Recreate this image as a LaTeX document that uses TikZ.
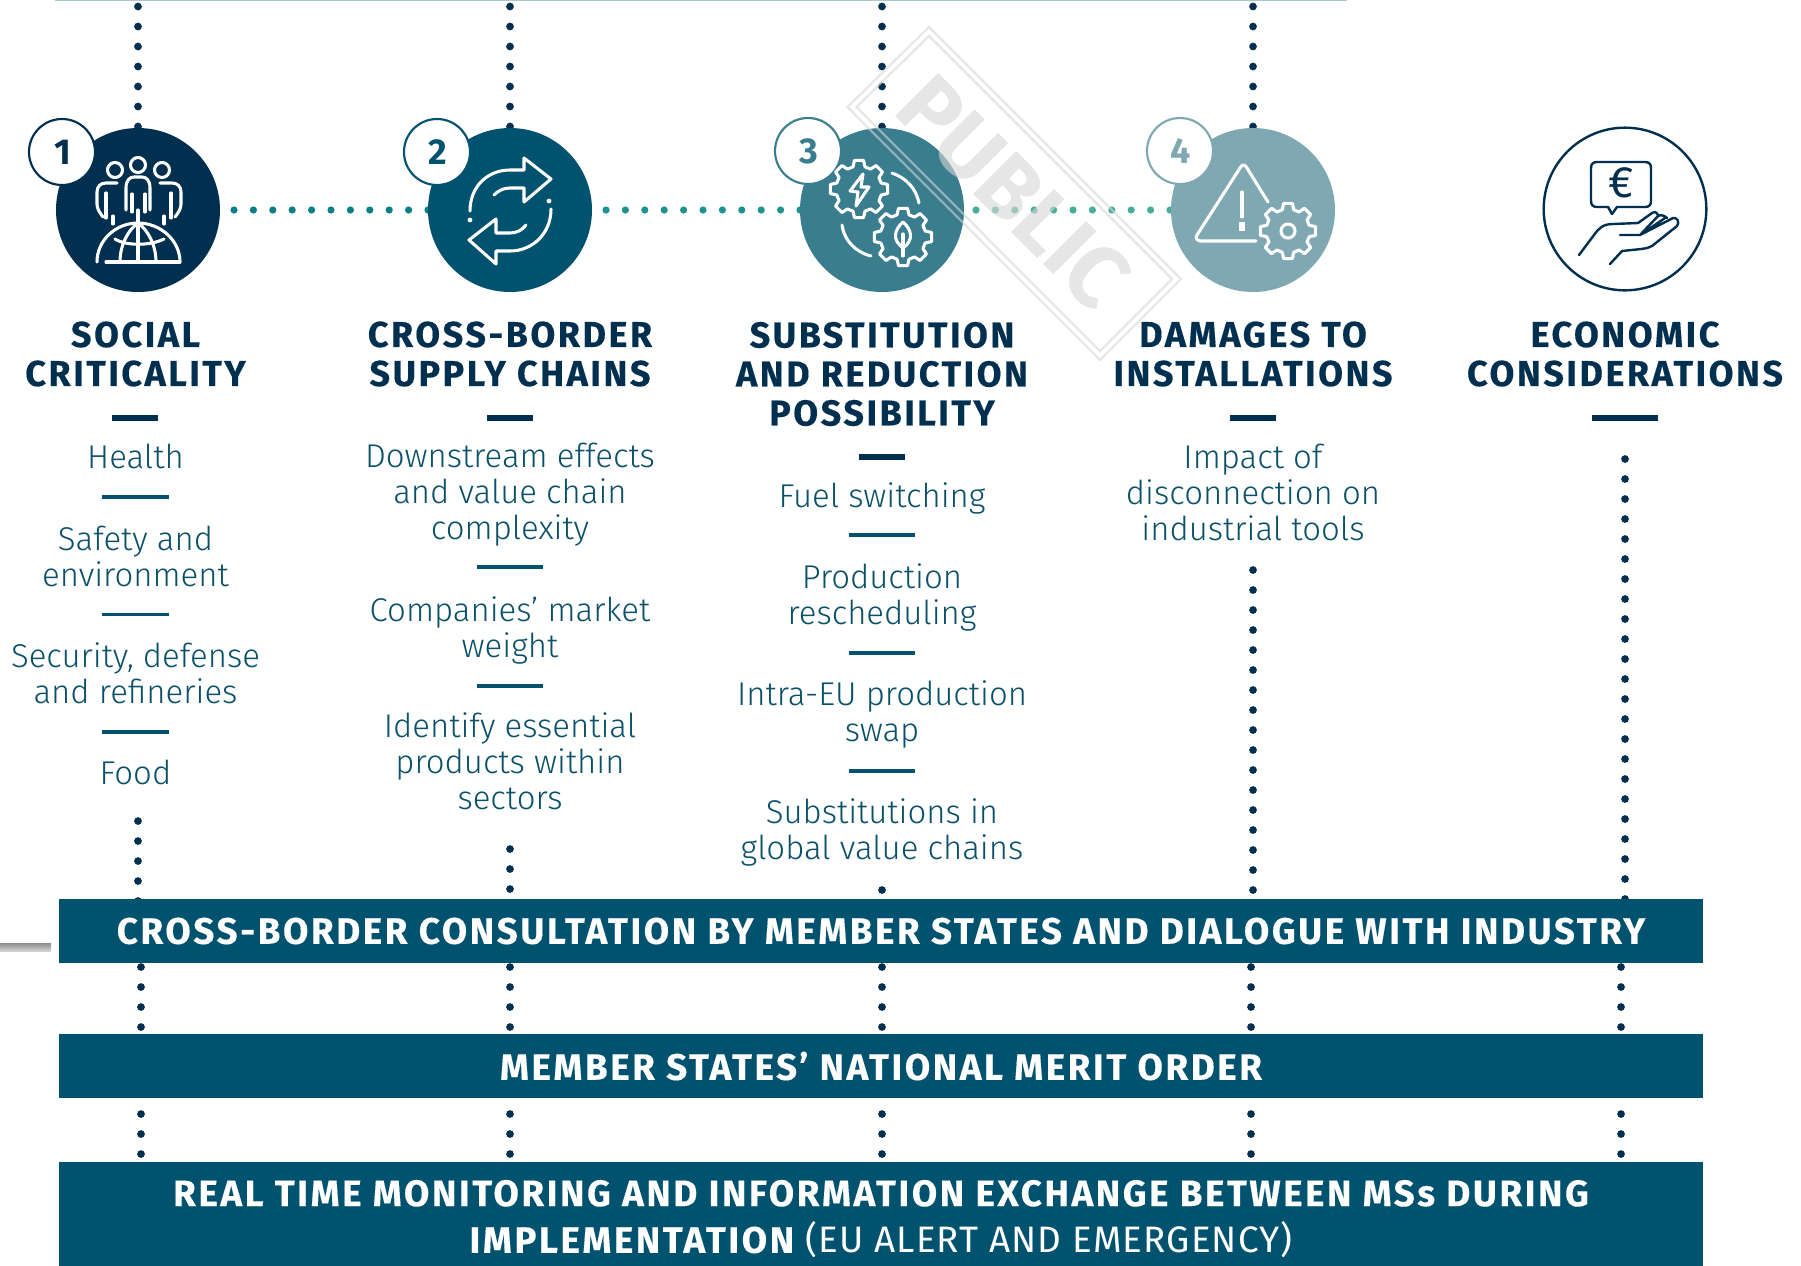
\documentclass[tikz,border=0pt]{standalone}
\usepackage{fontspec}
\setmainfont{Fira Sans}
\newfontfamily\bannerf[LetterSpace=7.0,BoldFeatures={FakeBold=0.25}]{Fira Sans}
\newfontfamily\bannerreg[LetterSpace=3.0]{Fira Sans}
\newfontfamily\bodyf{Fira Sans Light}
\usetikzlibrary{backgrounds}
\definecolor{navy}{HTML}{002F4F}
\definecolor{petrol}{HTML}{00526F}
\definecolor{midteal}{HTML}{3A7D8F}
\definecolor{paleteal}{HTML}{7FA8B3}
\definecolor{dotteal}{HTML}{0B7F86}
\definecolor{dotgreen}{HTML}{45AE9A}
\definecolor{dotmid}{HTML}{1D938F}
\definecolor{bodyc}{HTML}{0A5068}
\definecolor{topline}{HTML}{A6C8D0}
\definecolor{wm}{HTML}{D6D6D6}
\tikzset{
  disc/.style={circle,fill=#1,draw=none,minimum size=123pt,inner sep=0pt},
  badge/.style={circle,fill=white,draw=#1,line width=1.6pt,text=#1,minimum size=49.5pt,inner sep=0pt,font=\bfseries\fontsize{27}{27}\selectfont},
  title/.style={text=navy,align=center,inner sep=0pt,font=\bannerf\bfseries\fontsize{27}{29.25}\selectfont},
  body/.style={text=bodyc,align=center,inner sep=0pt,font=\bodyf\fontsize{24.7}{27}\selectfont},
  bar/.style={fill=navy,draw=none,minimum width=#1,minimum height=5.2pt,inner sep=0pt},
  thin/.style={fill=petrol,draw=none,minimum width=50pt,minimum height=2.8pt,inner sep=0pt},
  banner/.style={fill=petrol,draw=none,text=white,minimum width=1233pt,align=center,inner sep=0pt,font=\bannerf\bfseries\fontsize{27.6}{35}\selectfont},
  vdots/.style={draw=navy,line width=5.8pt,line cap=round,dash pattern=on 0pt off 15pt},
  hdots/.style={draw=#1,line width=5.4pt,line cap=round,dash pattern=on 0pt off 14.55pt},
  ico/.style={draw=white,line width=2.3pt,line cap=round,line join=round},
}
\newcommand{\gearshape}[5]{% x y R r style
  \draw[#5] ({#1+#3*cos(-9)},{#2+#3*sin(-9)})
    \foreach \a in {0,45,...,315}{
      -- ({#1+#3*cos(\a+9)},{#2+#3*sin(\a+9)})
      -- ({#1+#4*cos(\a+15)},{#2+#4*sin(\a+15)})
      -- ({#1+#4*cos(\a+30)},{#2+#4*sin(\a+30)})
      -- ({#1+#3*cos(\a+36)},{#2+#3*sin(\a+36)})
    } -- cycle;
}
\begin{document}
\begin{tikzpicture}[x=0.75pt,y=-0.75pt]
\useasboundingbox (0,0) rectangle (1801,1265);

% ---- discs and badges
\node[disc=navy]    (c1) at (138,210) {};
\node[disc=petrol]  (c2) at (510,210) {};
\node[disc=midteal] (c3) at (882,210) {};
\node[disc=paleteal](c4) at (1253,210) {};
\node[circle,fill=white,draw=navy,line width=1.8pt,minimum size=122pt,inner sep=0pt] (c5) at (1625,209) {};
\node[badge=navy]     (b1) at (62,152) {\kern1pt 1};
\node[badge=petrol]   (b2) at (437,152) {\kern1pt 2};
\node[badge=midteal]  (b3) at (808,151) {\kern1pt 3};
\node[badge=paleteal] (b4) at (1180,151) {\kern1pt 4};

% ---- titles
\node[title] (t1) at (135.5,354) {SOCIAL\\CRITICALITY};
\node[title] (t2) at (510,354) {CROSS-BORDER\\SUPPLY CHAINS};
\node[title] (t3) at (882,374) {SUBSTITUTION\\AND REDUCTION\\POSSIBILITY};
\node[title] (t4) at (1253,354) {DAMAGES TO\\INSTALLATIONS};
\node[title] (t5) at (1625,354) {ECONOMIC\\CONSIDERATIONS};
\node[bar=35pt] (r1) at (135,418) {};
\node[bar=35pt] (r2) at (510,418) {};
\node[bar=35pt] (r3) at (882,457) {};
\node[bar=35pt] (r4) at (1253,418) {};
\node[bar=49pt] (r5) at (1625,418) {};

% ---- column 1
\node[body] (a1) at (135.5,456) {Health};
\node[thin] at (135.5,497) {};
\node[body] (a2) at (135.5,556) {Safety and\\environment};
\node[thin] at (135.5,614.5) {};
\node[body] (a3) at (135.5,673) {Security, defense\\and refineries};
\node[thin] at (135.5,732) {};
\node[body] (a4) at (135.5,772) {Food};
% ---- column 2
\node[body] (d1) at (510,494.5) {Downstream effects\\and value chain\\complexity};
\node[thin] at (510,567) {};
\node[body] (d2) at (510,630.5) {Companies’ market\\weight};
\node[thin] at (510,686) {};
\node[body] (d3) at (510,761.5) {Identify essential\\products within\\sectors};
% ---- column 3
\node[body] (e1) at (882,498) {Fuel switching};
\node[thin] at (882,535) {};
\node[body] (e2) at (882,597.5) {Production\\rescheduling};
\node[thin] at (882,653) {};
\node[body] (e3) at (882,714.5) {Intra-EU production\\swap};
\node[thin] at (882,771) {};
\node[body] (e4) at (882,832) {Substitutions in\\global value chains};
% ---- column 4
\node[body] (f1) at (1253,492.5) {Impact of\\disconnection on\\industrial tools};

% ---- banners
\node[banner,minimum height=48pt] (g1) at (881,931) {CROSS-BORDER CONSULTATION BY MEMBER STATES AND DIALOGUE WITH INDUSTRY};
\node[banner,minimum height=48.5pt] (g2) at (881,1066) {MEMBER STATES’ NATIONAL MERIT ORDER};
\node[banner,minimum height=86pt] (g3) at (881,1219) {REAL TIME MONITORING AND INFORMATION EXCHANGE BETWEEN MSs DURING\\IMPLEMENTATION {\bannerreg\mdseries (EU ALERT AND EMERGENCY)}};

% ---- connector start points
\coordinate (s1) at (138,6.5);
\coordinate (s2) at (510,6.5);
\coordinate (s3) at (882,6.5);
\coordinate (s4) at (1253,6.5);
\coordinate (h1) at (234,210);
\coordinate (h2) at (606,210);
\coordinate (h3) at (976,210);
\coordinate (v1) at (138,821);
\coordinate (v2) at (510,849);
\coordinate (v3) at (882,890);
\coordinate (v4) at (1253,570);
\coordinate (v5) at (1625,459);
\coordinate (k1) at (141,967); \coordinate (k2) at (510,967); \coordinate (k3) at (882,967); \coordinate (k4) at (1251,967); \coordinate (k5) at (1621,967);
\coordinate (m1) at (141,1114); \coordinate (m2) at (510,1114); \coordinate (m3) at (882,1114); \coordinate (m4) at (1251,1114); \coordinate (m5) at (1621,1114);
\coordinate (l1) at (141,1040); \coordinate (l2) at (510,1040); \coordinate (l3) at (882,1040); \coordinate (l4) at (1251,1040); \coordinate (l5) at (1621,1040);
\coordinate (n1) at (141,1170); \coordinate (n2) at (510,1170); \coordinate (n3) at (882,1170); \coordinate (n4) at (1251,1170); \coordinate (n5) at (1621,1170);

\begin{scope}[on background layer]
  \fill[white] (0,0) rectangle (1801,1265);
  \draw[topline,line width=1.5pt] (55,0) -- (1347,0);
  \fill[top color=gray!90,bottom color=gray!35] (0,943) rectangle (51,951);
  \foreach \i in {1,2,3,4}{ \draw[vdots] (s\i) -- (c\i.center); }
  \draw[hdots=dotteal] (h1) -- (c2.center);
  \draw[hdots=dotmid] (h2) -- (c3.center);
  \draw[hdots=dotgreen] (h3) -- (c4.center);
  \draw[vdots] (v1) -- (v1 |- g1.center);
  \draw[vdots] (v2) -- (v2 |- g1.center);
  \draw[vdots] (v3) -- (v3 |- g1.center);
  \draw[vdots] (v4) -- (v4 |- g1.center);
  \draw[vdots] (v5) -- (v5 |- g1.center);
  \foreach \i in {1,...,5}{
    \draw[vdots] (k\i) -- (l\i);
    \draw[vdots] (m\i) -- (n\i);
  }
\end{scope}

% ---- icon 1: people on a globe
\begin{scope}[shift={(c1.center)}]
  \draw[ico] (0,-45) circle[radius=7.5] (-23,-40) circle[radius=7.5] (24,-40) circle[radius=7.5];
  \draw[ico] (-12,0) -- (-12,-22) .. controls (-12,-30) and (-8,-33) .. (-4,-33) -- (4,-33) .. controls (8,-33) and (12,-30) .. (12,-22) -- (12,0);
  \draw[ico] (-6,-16) -- (-6,2) (7,-16) -- (7,2) (0,0) -- (0,14);
  \draw[ico] (-35,7) .. controls (-39,2) and (-41,-2) .. (-41,-6) -- (-41,-18) .. controls (-41,-24) and (-37,-27) .. (-32,-27) -- (-21,-27);
  \draw[ico] (37,7) .. controls (41,2) and (43,-2) .. (43,-6) -- (43,-18) .. controls (43,-24) and (39,-27) .. (34,-27) -- (22,-27);
  \draw[ico] (-32,-17) -- (-32,8) (-25,6) -- (-25,14) (33,-17) -- (33,8) (26,6) -- (26,14);
  \draw[ico] (-41,52) .. controls (-41,30) and (-22,13) .. (0,13) .. controls (22,13) and (42,30) .. (42,52);
  \draw[ico] (-32,52) -- (42,52);
  \draw[ico] (-18,52) .. controls (-18,35) and (-10,20) .. (0,13) .. controls (10,20) and (18,35) .. (18,52);
  \draw[ico] (0,13) -- (0,52);
  \draw[ico] (-23,29) .. controls (-12,36) and (12,36) .. (26,29);
\end{scope}

% ---- icon 2: cycle arrows
\begin{scope}[shift={(c2.center)}]
  \draw[ico] (-40,1) .. controls (-40,-24) and (-22,-40) .. (0,-40) -- (14,-40) -- (14,-52) -- (41,-31) -- (14,-8) -- (14,-22) -- (0,-22) .. controls (-7,-22) and (-12,-19) .. (-16,-15);
  \draw[ico] (41,-1) .. controls (41,24) and (22,41) .. (0,41) -- (-14,41) -- (-14,54) -- (-41,30) -- (-14,9) -- (-14,23) -- (0,23) .. controls (7,23) and (12,20) .. (16,15);
  \fill[white] (39,-9) circle[radius=2.4] (-40,10) circle[radius=2.4];
\end{scope}

% ---- icon 3: two gears
\begin{scope}[shift={(c3.center)}]
  \gearshape{-23}{-21}{29}{23}{ico}
  \gearshape{21}{27}{29}{23}{ico}
  \draw[ico] (10,-37) .. controls (24,-32) and (34,-22) .. (37,-7);
  \draw[ico] (-40,15) .. controls (-38,30) and (-27,42) .. (-11,46);
  \draw[ico] (-19,-36) -- (-32,-19) -- (-24,-18) -- (-26,-4) -- (-13,-23) -- (-21,-23) -- cycle;
  \draw[ico] (21,12) .. controls (12,20) and (10,30) .. (21,38) .. controls (32,30) and (30,20) .. (21,12);
  \draw[ico] (21,24) -- (21,46);
\end{scope}

% ---- icon 4: warning sign and gear
\begin{scope}[shift={(c4.center)}]
  \draw[ico] (3,31) -- (-52,31) .. controls (-56,31) and (-58,28) .. (-56,25) -- (-13,-42) .. controls (-11,-46) and (-8,-46) .. (-6,-42) -- (15,-8);
  \draw[ico] (-11,-18) -- (-11,7);
  \draw[ico,line cap=butt,line width=3.8pt] (-11,12) -- (-11,21);
  \gearshape{35}{21}{28}{22}{ico}
  \draw[ico] (35,21) circle[radius=7];
\end{scope}

% ---- icon 5: euro over a hand
\begin{scope}[shift={(c5.center)}]
  \draw[navy,line width=1.8pt,line join=round,line cap=round]
    (-28,-47) -- (20,-47) .. controls (24,-47) and (26,-45) .. (26,-41) -- (26,-8) .. controls (26,-4) and (24,-2) .. (20,-2) -- (-8,-2) -- (-13,5) -- (-17,-2) -- (-28,-2) .. controls (-32,-2) and (-34,-4) .. (-34,-8) -- (-34,-41) .. controls (-34,-45) and (-32,-47) .. (-28,-47) -- cycle;
  \node[text=navy,inner sep=0pt,font=\fontsize{33}{33}\selectfont] (euro) at (-4,-26) {€};
  \draw[navy,line width=1.8pt,line join=round,line cap=round]
    (-46,46) -- (-31,26) .. controls (-26,19) and (-22,15) .. (-12,15) -- (13,14) -- (27,4) .. controls (30,2) and (33,4) .. (33,6)
    (-5,26) -- (15,26) -- (48,9) .. controls (52,8) and (55,13) .. (52,17) -- (27,37) .. controls (22,40) and (15,40) .. (-3,42) -- (-15,55)
    (15,26) -- (33,7) .. controls (36,5) and (40,7) .. (42,9)
    (18,24) -- (40,9);
\end{scope}

% ---- watermark
\draw[wm,opacity=.6,line width=1.6pt,line join=miter] (929,27) -- (1181,279) -- (1100,360) -- (847.5,107) -- cycle;
\draw[wm,opacity=.6,line width=1.6pt,line join=miter] (929,36) -- (1172,279) -- (1100,351) -- (856.5,107) -- cycle;
\node[text=wm,opacity=.6,inner sep=0pt,rotate=-45,font=\fontsize{66}{66}\selectfont\bfseries] (wmt) at (1014,192) {PUBLIC};
\end{tikzpicture}
\end{document}
